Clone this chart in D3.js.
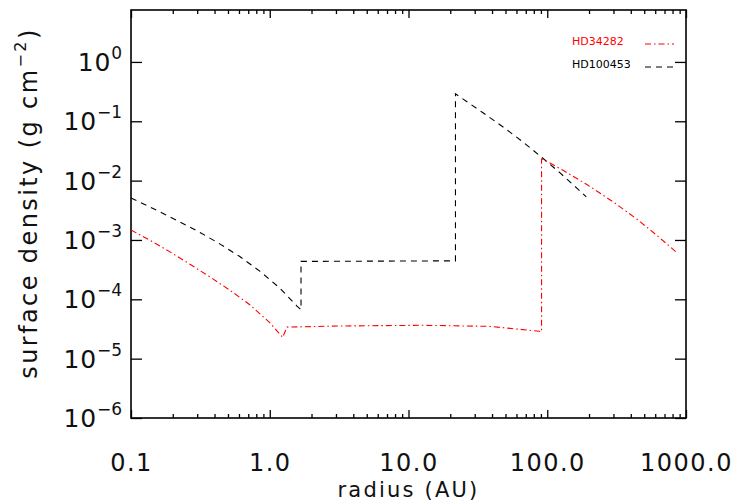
<!DOCTYPE html>
<html><head><meta charset="utf-8">
<script src="https://cdn.jsdelivr.net/npm/d3@7"></script>
<style>
body{margin:0;background:#fff;}
svg{display:block;}
text{font-family:"DejaVu Sans",sans-serif;}
</style></head>
<body><svg id="c" width="751" height="502"></svg>
<script>
// Data (radius in AU, surface density in g cm^-2)
const seriesNames = ["HD34282", "HD100453"];
const hd34282_r = [0.1, 0.137, 0.191, 0.266, 0.37, 0.515, 0.718, 1.0, 1.24, 1.33, 3.19, 12.6, 38.3, 87.5, 91, 91, 103, 130, 193, 298, 443, 618, 861];
const hd34282_s = [1.47e-3, 9.9e-4, 6.3e-4, 3.9e-4, 2.39e-4, 1.43e-4, 8.1e-5, 4.06e-5, 2.28e-5, 3.4e-5, 3.55e-5, 3.65e-5, 3.5e-5, 2.9e-5, 2.85e-5, 2.31e-2, 2.02e-2, 1.49e-2, 8.6e-3, 4.4e-3, 2.24e-3, 1.19e-3, 6.1e-4];
const hd100453_r = [0.1, 0.154, 0.214, 0.314, 0.436, 0.608, 0.847, 1.18, 1.57, 1.68, 1.68, 21.8, 21.8, 34, 47.5, 65, 90.6, 122, 162, 191];
const hd100453_s = [5.09e-3, 3.14e-3, 2.14e-3, 1.34e-3, 8.6e-4, 5.25e-4, 2.99e-4, 1.55e-4, 7.7e-5, 6.7e-5, 4.35e-4, 4.45e-4, 0.29, 0.142, 0.0817, 0.0472, 0.0251, 0.01387, 0.00762, 0.00532];
const xTicks = [0.1, 1, 10, 100, 1000];
const xTickLabels = ["0.1", "1.0", "10.0", "100.0", "1000.0"];
const yTicks = [1e-6, 1e-5, 1e-4, 1e-3, 1e-2, 1e-1, 1];
const yTickExps = ["\u22126", "\u22125", "\u22124", "\u22123", "\u22122", "\u22121", "0"];

const svg = d3.select("#c");
const L = 131, R = 686, T = 10, B = 418;
const x = d3.scaleLog().domain([0.1, 1000]).range([L, R]);
const y = d3.scaleLog().domain([1e-6, 7.5]).range([B, T]);

// minor x ticks
const minor = [];
for (let d = 0.1; d < 1000; d *= 10) for (let k = 2; k <= 9; k++) minor.push(d * k);

const gx = svg.append("g").attr("transform", `translate(0,${B})`);
gx.call(d3.axisBottom(x).tickValues(minor).tickSize(-4).tickFormat(""));
const gxl = gx.append("g").call(d3.axisBottom(x).tickValues(xTicks).tickSize(-8).tickFormat((d,i)=>xTickLabels[i]).tickPadding(42));
const gxt = svg.append("g").attr("transform", `translate(0,${T})`);
gxt.call(d3.axisTop(x).tickValues(minor).tickSize(-4).tickFormat(""));
gxt.append("g").call(d3.axisTop(x).tickValues(xTicks).tickSize(-8).tickFormat(""));

const gy = svg.append("g").attr("transform", `translate(${L},0)`);
gy.call(d3.axisLeft(y).tickValues(yTicks).tickSize(-11).tickFormat(""));
const gyr = svg.append("g").attr("transform", `translate(${R},0)`);
gyr.call(d3.axisRight(y).tickValues(yTicks).tickSize(-11).tickFormat(""));

svg.selectAll(".domain").remove();
svg.selectAll(".tick line").attr("stroke", "#000").attr("stroke-width", 1.3);
gxl.selectAll("text").attr("font-size", 24).attr("fill", "#111").attr("font-family", "DejaVu Sans")
  .attr("letter-spacing", 1.5).attr("dy", null).attr("y", 53);

// y tick labels
yTicks.forEach((v, i) => {
  const t = svg.append("text").attr("x", 122).attr("y", y(v) + 9).attr("text-anchor", "end").attr("fill", "#111");
  t.append("tspan").attr("font-size", 25).attr("letter-spacing", 0.8).text("10");
  t.append("tspan").attr("font-size", 17).attr("dy", -12).text(yTickExps[i]);
});

// frame
svg.append("rect").attr("x", L).attr("y", T).attr("width", R - L).attr("height", B - T)
  .attr("fill", "none").attr("stroke", "#000").attr("stroke-width", 1.6);

// axis titles
svg.append("text").attr("x", (L + R) / 2).attr("y", 496.5).attr("text-anchor", "middle")
  .attr("font-size", 21).attr("fill", "#111").attr("letter-spacing", 2.2).text("radius (AU)");
const yl = svg.append("text").attr("transform", `translate(37,203) rotate(-90)`)
  .attr("text-anchor", "middle").attr("font-size", 24).attr("fill", "#111").attr("letter-spacing", 2.4);
yl.append("tspan").text("surface density (g cm");
yl.append("tspan").attr("font-size", 16).attr("dy", -11).text("\u22122");
yl.append("tspan").attr("dy", 11).text(")");

// lines
const line = d3.line().x(d => x(d[0])).y(d => y(d[1]));
const d1 = hd34282_r.map((r, i) => [r, hd34282_s[i]]);
const d2 = hd100453_r.map((r, i) => [r, hd100453_s[i]]);
svg.append("path").datum(d2).attr("d", line).attr("fill", "none").attr("stroke", "#000")
  .attr("stroke-width", 1.1).attr("stroke-dasharray", "6,5");
svg.append("path").datum(d1).attr("d", line).attr("fill", "none").attr("stroke", "#ff0000")
  .attr("stroke-width", 1.1).attr("stroke-dasharray", "6,3,1.5,3");

// legend
const leg = [{name: seriesNames[0], color: "#ff0000", dash: "6,3,1.5,3", y: 45},
             {name: seriesNames[1], color: "#000", dash: "6,5", y: 68}];
leg.forEach(l => {
  svg.append("text").attr("x", 572).attr("y", l.y).attr("font-size", 11).attr("fill", l.color).text(l.name);
  svg.append("line").attr("x1", 645).attr("x2", 674).attr("y1", l.y - 1).attr("y2", l.y - 1)
    .attr("stroke", l.color).attr("stroke-width", 1.1).attr("stroke-dasharray", l.dash);
});
</script></body></html>
